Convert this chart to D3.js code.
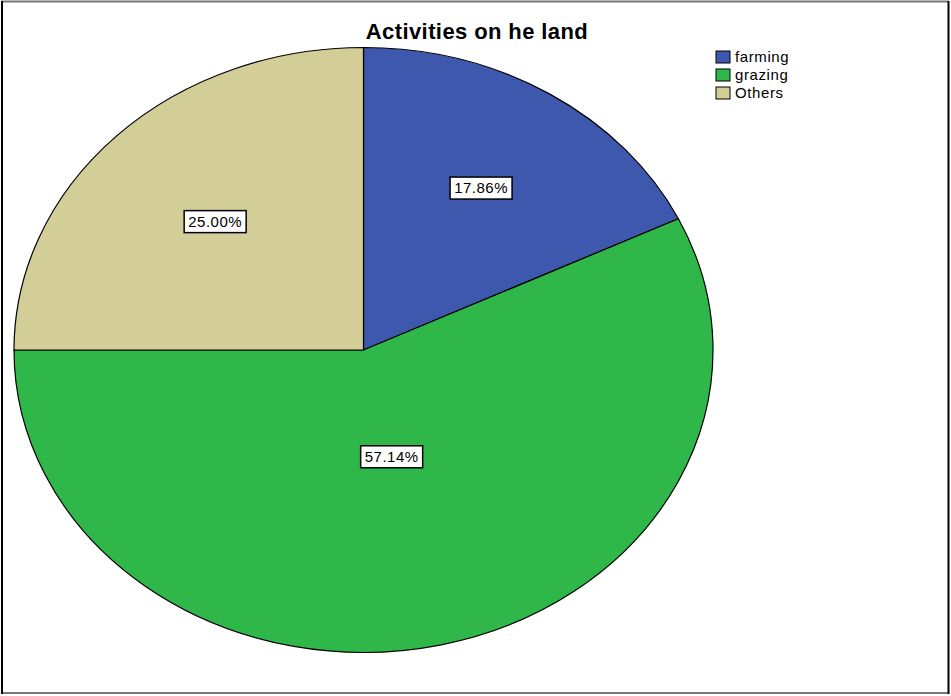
<!DOCTYPE html>
<html lang="en">
<head>
<script src="https://d3js.org/d3.v7.min.js"></script>
<style>
  body { margin: 0; background: #fff; }
  text { font-family: "Liberation Sans", Arial, sans-serif; }
</style>
</head>
<body>
<script>
// Data (counts giving 17.86 / 57.14 / 25.00 %)
var categories = ["farming", "grazing", "Others"];
var counts = [5, 16, 7];
var colors = ["#3e58ad", "#2fb74a", "#d3cd98"];

const width = 951, height = 696;
const cx = 363.5, cy = 350, rx = 349.5, ry = 302.5;

const svg = d3.select("body").append("svg")
  .attr("width", width)
  .attr("height", height);

// outer frame
svg.append("line").attr("x1", 1).attr("y1", 1.5).attr("x2", 949).attr("y2", 1.5)
  .attr("stroke", "#777").attr("stroke-width", 2);
svg.append("line").attr("x1", 1).attr("y1", 693).attr("x2", 949).attr("y2", 693)
  .attr("stroke", "#777").attr("stroke-width", 2);
svg.append("line").attr("x1", 2).attr("y1", 1).attr("x2", 2).attr("y2", 694)
  .attr("stroke", "#000").attr("stroke-width", 2);
svg.append("line").attr("x1", 948.5).attr("y1", 1).attr("x2", 948.5).attr("y2", 694)
  .attr("stroke", "#000").attr("stroke-width", 2);

// title
svg.append("text")
  .attr("x", 477).attr("y", 39)
  .attr("text-anchor", "middle")
  .attr("font-size", 22).attr("font-weight", "bold")
  .attr("letter-spacing", 0.4)
  .text("Activities on he land");

var color = d3.scaleOrdinal().domain(categories).range(colors);
var total = d3.sum(counts);

var pie = d3.pie().sort(null);
var arc = d3.arc().innerRadius(0).outerRadius(1);

var arcsData = pie(counts);

// pie is an ellipse, so draw on a unit circle and scale
var g = svg.append("g")
  .attr("transform", "translate(" + cx + "," + cy + ") scale(" + rx + "," + ry + ")");

g.selectAll("path")
  .data(arcsData)
  .enter()
  .append("path")
  .attr("d", arc)
  .attr("fill", function(d, i) { return color(categories[i]); })
  .attr("stroke", "#000")
  .attr("stroke-width", 1.2)
  .attr("vector-effect", "non-scaling-stroke");

// label at the area centroid of each sector
function labelPos(d) {
  var half = (d.endAngle - d.startAngle) / 2;
  var mid = d.startAngle + half;
  var r = (2 / 3) * Math.sin(half) / half;
  return [cx + r * Math.sin(mid) * rx, cy - r * Math.cos(mid) * ry];
}

var labels = svg.append("g").selectAll("g")
  .data(arcsData)
  .enter()
  .append("g")
  .attr("transform", function(d) { return "translate(" + labelPos(d) + ")"; });

labels.append("rect")
  .attr("x", -31).attr("y", -11)
  .attr("width", 62).attr("height", 22)
  .attr("fill", "#fff")
  .attr("stroke", "#000")
  .attr("stroke-width", 1.5);

labels.append("text")
  .attr("text-anchor", "middle")
  .attr("dy", "0.36em")
  .attr("font-size", 15)
  .attr("letter-spacing", 0.5)
  .text(function(d) { return (d.data / total * 100).toFixed(2) + "%"; });

// legend
var legend = svg.append("g").selectAll("g")
  .data(categories)
  .enter()
  .append("g")
  .attr("transform", function(d, i) { return "translate(716," + (51 + i * 18) + ")"; });

legend.append("rect")
  .attr("width", 14).attr("height", 12)
  .attr("fill", function(d) { return color(d); })
  .attr("stroke", "#000").attr("stroke-width", 1);

legend.append("text")
  .attr("x", 19).attr("y", 6)
  .attr("dy", "0.36em")
  .attr("font-size", 15)
  .attr("letter-spacing", 0.6)
  .text(function(d) { return d; });
</script>
</body>
</html>
